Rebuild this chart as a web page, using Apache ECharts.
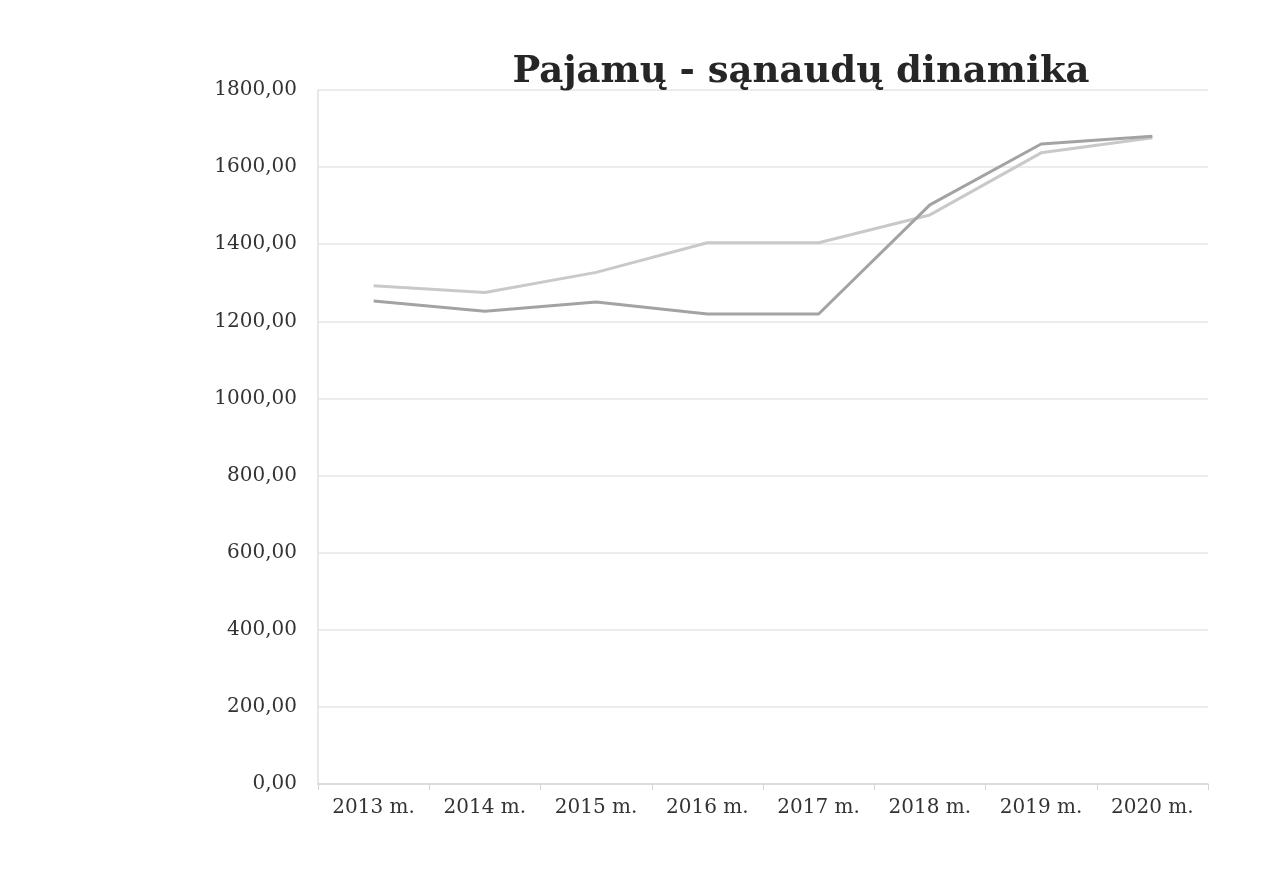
<!DOCTYPE html>
<html>
<head>
<meta charset="utf-8">
<script src="https://cdn.jsdelivr.net/npm/echarts@6/dist/echarts.min.js"></script>
<style>
  html, body { margin: 0; padding: 0; background: #fff; }
  #main { width: 1280px; height: 874px; }
</style>
</head>
<body>
<div id="main"></div>
<script>
// chart data
const years = ['2013 m.', '2014 m.', '2015 m.', '2016 m.', '2017 m.', '2018 m.', '2019 m.', '2020 m.'];
const pajamos = [1292, 1275, 1327, 1404, 1404, 1476, 1637, 1676];
const sanaudos = [1253, 1226, 1250, 1219, 1219, 1502, 1660, 1680];
const yMin = 0;
const yMax = 1800;
const yStep = 200;

const chart = echarts.init(document.getElementById('main'));

const option = {
  backgroundColor: '#ffffff',
  title: {
    text: 'Pajamų - sąnaudų dinamika',
    left: 796,
    textAlign: 'center',
    top: 49,
    textStyle: {
      fontFamily: 'DejaVu Serif',
      fontWeight: 'bold',
      fontSize: 37,
      color: '#262626',
    },
  },
  grid: {
    left: 318,
    right: 72,
    top: 90,
    bottom: 90,
  },
  xAxis: {
    type: 'category',
    data: years,
    boundaryGap: true,
    axisLine: { lineStyle: { color: '#d6d6d6', width: 1.5 } },
    axisTick: { show: true, length: 6, lineStyle: { color: '#d6d6d6' } },
    axisLabel: {
      fontFamily: 'DejaVu Serif',
      fontSize: 20,
      color: '#333333',
      margin: 14,
    },
  },
  yAxis: {
    type: 'value',
    min: yMin,
    max: yMax,
    interval: yStep,
    axisLine: { show: true, lineStyle: { color: '#e0e0e0', width: 1.5 } },
    axisTick: { show: false },
    splitLine: { lineStyle: { color: '#e6e6e6', width: 1.5 } },
    axisLabel: {
      fontFamily: 'DejaVu Serif',
      fontSize: 20,
      color: '#333333',
      margin: 21,
      formatter: (v) => v.toFixed(2).replace('.', ','),
    },
  },
  series: [{
    name: 'Pajamos',
    type: 'line',
    data: pajamos,
    symbol: 'none',
    lineStyle: { color: '#c9c9c9', width: 3 },
  }, {
    name: 'Sąnaudos',
    type: 'line',
    data: sanaudos,
    symbol: 'none',
    lineStyle: { color: '#a3a3a3', width: 3 },
  }],
};

chart.setOption(option);
</script>
</body>
</html>
